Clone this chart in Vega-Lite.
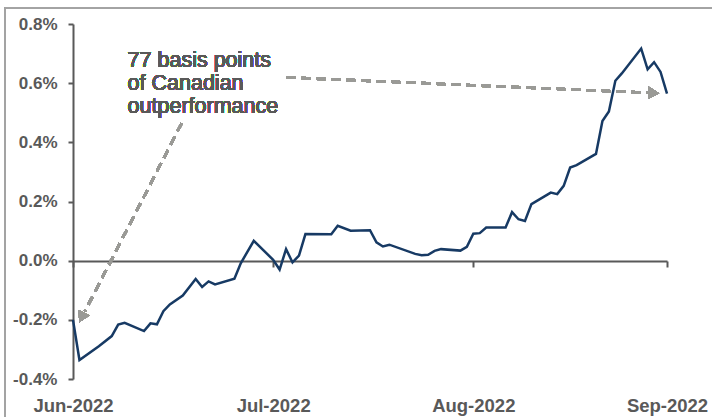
{
  "$schema": "https://vega.github.io/schema/vega-lite/v6.json",
  "width": 594,
  "height": 355,
  "autosize": {"type": "none"},
  "padding": {"left": 73, "top": 24, "right": 45, "bottom": 38},
  "background": "white",
  "config": {
    "view": {"stroke": null},
    "font": "Liberation Sans",
    "axis": {"grid": false}
  },
  "data": {
    "values": [
      {"date": "2022-06-01", "v": -0.2},
      {"date": "2022-06-02", "v": -0.336},
      {"date": "2022-06-05", "v": -0.289},
      {"date": "2022-06-07", "v": -0.255},
      {"date": "2022-06-08", "v": -0.216},
      {"date": "2022-06-09", "v": -0.21},
      {"date": "2022-06-12", "v": -0.238},
      {"date": "2022-06-13", "v": -0.212},
      {"date": "2022-06-14", "v": -0.215},
      {"date": "2022-06-15", "v": -0.171},
      {"date": "2022-06-16", "v": -0.148},
      {"date": "2022-06-18", "v": -0.118},
      {"date": "2022-06-20", "v": -0.062},
      {"date": "2022-06-21", "v": -0.089},
      {"date": "2022-06-22", "v": -0.07},
      {"date": "2022-06-23", "v": -0.08},
      {"date": "2022-06-26", "v": -0.061},
      {"date": "2022-06-27", "v": -0.008},
      {"date": "2022-06-29", "v": 0.067},
      {"date": "2022-07-02", "v": 0.003},
      {"date": "2022-07-03", "v": -0.03},
      {"date": "2022-07-04", "v": 0.039},
      {"date": "2022-07-05", "v": -0.006},
      {"date": "2022-07-06", "v": 0.017},
      {"date": "2022-07-07", "v": 0.09},
      {"date": "2022-07-11", "v": 0.089},
      {"date": "2022-07-12", "v": 0.118},
      {"date": "2022-07-14", "v": 0.101},
      {"date": "2022-07-17", "v": 0.103},
      {"date": "2022-07-18", "v": 0.062},
      {"date": "2022-07-19", "v": 0.048},
      {"date": "2022-07-20", "v": 0.054},
      {"date": "2022-07-24", "v": 0.023},
      {"date": "2022-07-25", "v": 0.018},
      {"date": "2022-07-26", "v": 0.02},
      {"date": "2022-07-27", "v": 0.033},
      {"date": "2022-07-28", "v": 0.039},
      {"date": "2022-07-31", "v": 0.034},
      {"date": "2022-08-01", "v": 0.047},
      {"date": "2022-08-02", "v": 0.091},
      {"date": "2022-08-03", "v": 0.093},
      {"date": "2022-08-04", "v": 0.112},
      {"date": "2022-08-07", "v": 0.112},
      {"date": "2022-08-08", "v": 0.164},
      {"date": "2022-08-09", "v": 0.14},
      {"date": "2022-08-10", "v": 0.134},
      {"date": "2022-08-11", "v": 0.191},
      {"date": "2022-08-14", "v": 0.23},
      {"date": "2022-08-15", "v": 0.225},
      {"date": "2022-08-16", "v": 0.253},
      {"date": "2022-08-17", "v": 0.315},
      {"date": "2022-08-18", "v": 0.323},
      {"date": "2022-08-21", "v": 0.361},
      {"date": "2022-08-22", "v": 0.472},
      {"date": "2022-08-23", "v": 0.504},
      {"date": "2022-08-24", "v": 0.608},
      {"date": "2022-08-25", "v": 0.633},
      {"date": "2022-08-28", "v": 0.717},
      {"date": "2022-08-29", "v": 0.647},
      {"date": "2022-08-30", "v": 0.671},
      {"date": "2022-08-31", "v": 0.638},
      {"date": "2022-09-01", "v": 0.565}
    ]
  },
  "layer": [
    {
      "mark": {"type": "rule", "color": "#a3a3a3", "strokeWidth": 1.5},
      "encoding": {
        "x": {"datum": {"year": 2022, "month": 5, "date": 21, "hours": 11, "utc": true}, "type": "temporal", "scale": {"type": "utc"}},
        "x2": {"datum": {"year": 2022, "month": 9, "date": 20, "utc": true}},
        "y": {"datum": 0.8533, "type": "quantitative"}
      }
    },
    {
      "mark": {"type": "rule", "color": "#a3a3a3", "strokeWidth": 1.5},
      "encoding": {
        "x": {"datum": {"year": 2022, "month": 5, "date": 21, "hours": 11, "utc": true}, "type": "temporal", "scale": {"type": "utc"}},
        "y": {"datum": 0.8533, "type": "quantitative"},
        "y2": {"datum": -0.7}
      }
    },
    {
      "mark": {"type": "line", "color": "#173a64", "strokeWidth": 2.5, "strokeJoin": "miter"},
      "encoding": {
        "x": {
          "field": "date",
          "type": "temporal",
          "scale": {
            "type": "utc",
            "nice": false,
            "domain": [
              {"year": 2022, "month": 6, "date": 1, "utc": true},
              {"year": 2022, "month": 9, "date": 1, "utc": true}
            ]
          },
          "axis": {
            "title": null,
            "orient": "bottom",
            "offset": -118,
            "values": [
              {"year": 2022, "month": 6, "date": 1, "utc": true},
              {"year": 2022, "month": 7, "date": 2, "utc": true},
              {"year": 2022, "month": 8, "date": 2, "utc": true},
              {"year": 2022, "month": 9, "date": 1, "utc": true}
            ],
            "format": "%b-%Y",
            "labelFlush": false,
            "labelOverlap": false,
            "labelFont": "Liberation Sans",
            "labelFontWeight": "bold",
            "labelFontSize": 18.5,
            "labelColor": "#595959",
            "labelPadding": 129,
            "domainColor": "#595959",
            "domainWidth": 2,
            "tickColor": "#595959",
            "tickWidth": 2,
            "tickSize": 6
          }
        },
        "y": {
          "field": "v",
          "type": "quantitative",
          "scale": {"domain": [-0.4, 0.8], "nice": false, "zero": false},
          "axis": {
            "title": null,
            "values": [-0.4, -0.2, 0, 0.2, 0.4, 0.6, 0.8],
            "labelExpr": "replace(format(datum.value, '.1f'), '\u2212', '-') + '%'",
            "labelFont": "Liberation Sans",
            "labelFontWeight": "bold",
            "labelFontSize": 17,
            "labelColor": "#595959",
            "labelPadding": 11,
            "domainColor": "#595959",
            "domainWidth": 2,
            "tickColor": "#595959",
            "tickWidth": 2,
            "tickSize": 5
          }
        }
      }
    },
    {
      "mark": {"type": "rule", "color": "#9a9a96", "strokeWidth": 2.5, "strokeDash": [9, 6]},
      "encoding": {
        "x": {"datum": {"year": 2022, "month": 6, "date": 17, "hours": 20, "utc": true}, "type": "temporal", "scale": {"type": "utc"}},
        "x2": {"datum": {"year": 2022, "month": 6, "date": 2, "hours": 20, "utc": true}},
        "y": {"datum": 0.4644, "type": "quantitative"},
        "y2": {"datum": -0.172}
      }
    },
    {
      "mark": {"type": "rule", "color": "#9a9a96", "strokeWidth": 2.5, "strokeDash": [9, 6]},
      "encoding": {
        "x": {"datum": {"year": 2022, "month": 7, "date": 4, "hours": 2, "utc": true}, "type": "temporal", "scale": {"type": "utc"}},
        "x2": {"datum": {"year": 2022, "month": 8, "date": 29, "hours": 1, "utc": true}},
        "y": {"datum": 0.6196, "type": "quantitative"},
        "y2": {"datum": 0.5676}
      }
    },
    {
      "mark": {"type": "point", "shape": "triangle-up", "filled": true, "color": "#9a9a96", "opacity": 1, "size": 150, "angle": 207},
      "encoding": {
        "x": {"datum": {"year": 2022, "month": 6, "date": 2, "hours": 8, "utc": true}, "type": "temporal", "scale": {"type": "utc"}},
        "y": {"datum": -0.192, "type": "quantitative"}
      }
    },
    {
      "mark": {"type": "point", "shape": "triangle-up", "filled": true, "color": "#9a9a96", "opacity": 1, "size": 150, "angle": 92.5},
      "encoding": {
        "x": {"datum": {"year": 2022, "month": 8, "date": 29, "hours": 23, "utc": true}, "type": "temporal", "scale": {"type": "utc"}},
        "y": {"datum": 0.5666, "type": "quantitative"}
      }
    },
    {
      "mark": {
        "type": "text",
        "text": "77 basis points\nof Canadian\noutperformance",
        "lineBreak": "\n",
        "align": "left",
        "baseline": "alphabetic",
        "fontSize": 21.5,
        "lineHeight": 23,
        "color": "#595959",
        "font": "Liberation Sans"
      },
      "encoding": {
        "x": {"datum": {"year": 2022, "month": 6, "date": 9, "hours": 11, "utc": true}, "type": "temporal", "scale": {"type": "utc"}},
        "y": {"datum": 0.654, "type": "quantitative"}
      }
    }
  ]
}
